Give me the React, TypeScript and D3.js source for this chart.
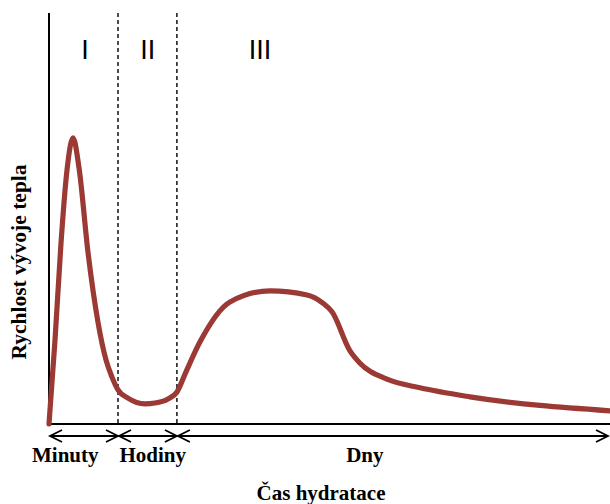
import React from "react";
import * as d3 from "d3";

// Heat-release curve (arbitrary units): time 0–100, rate 0–100
const timeValues = [0, 1.07, 2.14, 3.21, 4.28, 5.35, 6.95, 8.73, 10.16, 11.23, 12.3, 14.08, 17.11, 18.89, 21.21, 22.82, 24.42, 26.92, 32.26, 39.39, 45.99, 48.84, 50.45, 53.65, 55.44, 60.25, 66.13, 75.04, 100];
const rateValues = [0, 20.4, 44.0, 61.8, 69.6, 62.3, 41.8, 24.8, 15.6, 11.4, 8.3, 6.3, 4.9, 5.1, 6.1, 7.8, 12.7, 20.0, 29.7, 32.4, 31.4, 29.4, 27.3, 17.8, 14.8, 10.9, 8.8, 6.6, 3.2];

const stageBounds = [0, 12.3, 22.8, 100];
const stageNumerals = ["I", "II", "III"];
const numeralX = [6.4, 17.6, 37.6];
const periodLabels = ["Minuty", "Hodiny", "Dny"];
const periodLabelX = [2.9, 18.5, 56.3];
const xTitle = "Čas hydratace";
const yTitle = "Rychlost vývoje tepla";

const W = 610;
const H = 504;
const left = 49;
const right = 610;
const top = 13;
const bottom = 424;

export default function App() {
  const x = d3.scaleLinear().domain([0, 100]).range([left, right]);
  const y = d3.scaleLinear().domain([0, 100]).range([bottom, top]);
  const pts = timeValues.map((t, i) => [t, rateValues[i]] as [number, number]);
  const line = d3
    .line<[number, number]>()
    .x((d) => x(d[0]))
    .y((d) => y(d[1]))
    .curve(d3.curveMonotoneX);

  const arrowY = 436;
  const head = 12;
  const headH = 6;
  const serif = "'Liberation Serif', 'Times New Roman', serif";

  return (
    <svg
      width={W}
      height={H}
      style={{ position: "absolute", left: 0, top: 0, background: "#fff" }}
    >
      {/* stage separators */}
      {stageBounds.slice(1, 3).map((b, i) => (
        <line
          key={"sep" + i}
          x1={x(b)}
          x2={x(b)}
          y1={top}
          y2={bottom}
          stroke="#000"
          strokeWidth={1.4}
          strokeDasharray="4,3"
        />
      ))}
      {/* axes */}
      <line x1={left} x2={left} y1={top} y2={bottom + 1} stroke="#000" strokeWidth={2} />
      <line x1={left - 1} x2={right} y1={bottom} y2={bottom} stroke="#000" strokeWidth={2} />

      {/* curve */}
      <path
        d={line(pts) || ""}
        fill="none"
        stroke="#9b3935"
        strokeWidth={5.2}
        strokeLinecap="round"
        strokeLinejoin="round"
      />

      {/* roman numerals */}
      {stageNumerals.map((n, i) => (
        <text
          key={"n" + i}
          x={x(numeralX[i])}
          y={59}
          textAnchor="middle"
          fontFamily="'Liberation Sans', Arial, sans-serif"
          fontSize={27}
          fill="#000"
        >
          {n}
        </text>
      ))}

      {/* double arrows */}
      {stageNumerals.map((_, i) => {
        const x0 = x(stageBounds[i]) + 1;
        const x1 = Math.min(x(stageBounds[i + 1]), W - 2);
        return (
          <g key={"a" + i} stroke="#000" strokeWidth={1.8} fill="none">
            <line x1={x0} x2={x1} y1={arrowY} y2={arrowY} />
            <path d={`M${x0 + head},${arrowY - headH}L${x0},${arrowY}L${x0 + head},${arrowY + headH}`} />
            <path d={`M${x1 - head},${arrowY - headH}L${x1},${arrowY}L${x1 - head},${arrowY + headH}`} />
          </g>
        );
      })}

      {/* period labels */}
      {periodLabels.map((p, i) => (
        <text
          key={"p" + i}
          x={x(periodLabelX[i])}
          y={462}
          textAnchor="middle"
          fontFamily={serif}
          fontWeight="bold"
          fontSize={21}
          fill="#000"
        >
          {p}
        </text>
      ))}

      <text
        x={321}
        y={500}
        textAnchor="middle"
        fontFamily={serif}
        fontWeight="bold"
        fontSize={21}
        fill="#000"
      >
        {xTitle}
      </text>
      <text
        transform="translate(26,262) rotate(-90)"
        textAnchor="middle"
        fontFamily={serif}
        fontWeight="bold"
        fontSize={21.5}
        fill="#000"
      >
        {yTitle}
      </text>
    </svg>
  );
}
